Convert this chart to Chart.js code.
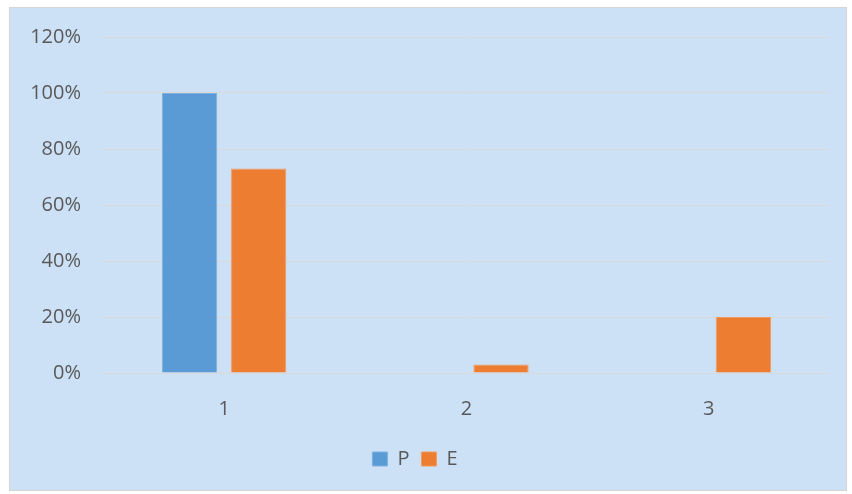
<!DOCTYPE html>
<html>
<head>
<meta charset="utf-8">
<script src="https://cdn.jsdelivr.net/npm/chart.js@4"></script>
<style>
  body { margin: 0; background: #fff; }
  #frame {
    position: absolute; left: 9px; top: 7px;
    width: 836px; height: 482px;
    border: 1px solid #d4d4d4;
    background: #cce1f5;
  }
  #c { position: absolute; left: 0; top: 0; }
</style>
</head>
<body>
<div id="frame"></div>
<canvas id="c" width="852" height="494"></canvas>
<script>
const categories = ['1', '2', '3'];
const pValues = [100, 0, 0];
const eValues = [73, 3, 20];
const yTicks = [0, 20, 40, 60, 80, 100, 120];

const font = { family: "'Open Sans', 'Liberation Sans', sans-serif", size: 20 };
const textColor = '#595959';

new Chart(document.getElementById('c').getContext('2d'), {
    type: 'bar',
    data: {
        labels: categories,
        datasets: [{
            label: 'P',
            data: pValues,
            backgroundColor: '#5b9bd5',
            borderColor: '#7fb0de',
            borderWidth: 1
        },
        {
            label: 'E',
            data: eValues,
            backgroundColor: '#ed7d31',
            borderColor: '#f29a5e',
            borderWidth: 1
        }]
    },
    options: {
        responsive: false,
        animation: false,
        categoryPercentage: 0.57,
        barPercentage: 0.8,
        layout: { padding: { top: 37, right: 22, bottom: 15, left: 0 } },
        scales: {
            x: {
                grid: { display: false },
                border: { display: false },
                ticks: { color: textColor, font: font, padding: 16 }
            },
            y: {
                min: 0,
                max: 120,
                afterBuildTicks: axis => { axis.ticks = yTicks.map(v => ({ value: v })); },
                afterFit: axis => { axis.width = 103; },
                grid: { color: '#d9d9d9', lineWidth: 1, drawTicks: false },
                border: { display: false },
                ticks: {
                    color: textColor,
                    font: font,
                    padding: 22,
                    callback: v => v + '%'
                }
            }
        },
        plugins: {
            tooltip: { enabled: false },
            legend: {
                position: 'bottom',
                labels: {
                    color: textColor,
                    font: font,
                    boxWidth: 15,
                    boxHeight: 14,
                    padding: 12
                }
            }
        }
    }
});
</script>
</body>
</html>
